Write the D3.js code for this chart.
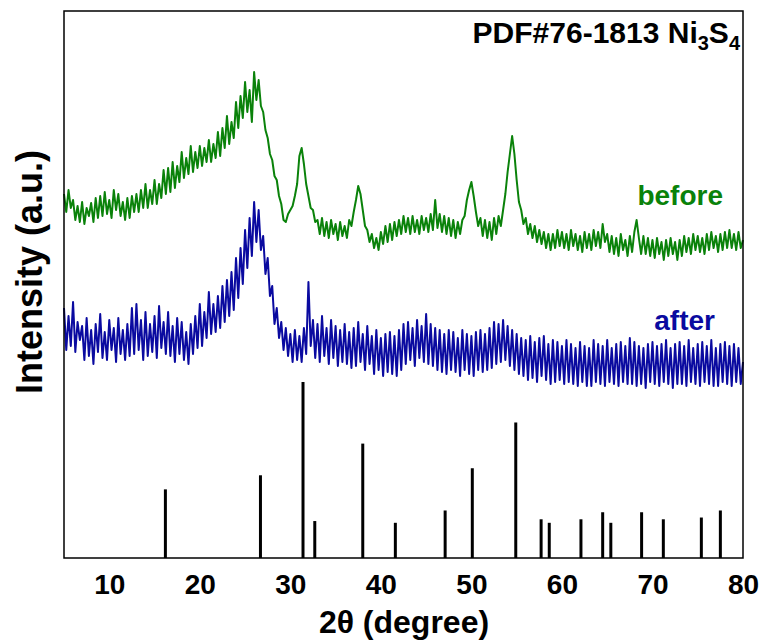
<!DOCTYPE html>
<html>
<head>
<meta charset="utf-8">
<script src="https://cdn.jsdelivr.net/npm/d3@7"></script>
<style>
  body { margin: 0; background: #fff; }
  text { font-family: Arial, 'Liberation Sans', sans-serif; font-weight: bold; }
</style>
</head>
<body>
<svg id="xrd" width="763" height="644"></svg>
<script>
// 2theta grid of the scans: start, step (degree)
let scanStart = 5, scanStep = 0.25;

// sample before cycling (a.u.)
let before = [
    364, 346, 368, 350, 358, 338, 352, 336, 356, 334, 350, 342, 355, 336, 360, 340,
    362, 342, 366, 344, 358, 340, 368, 348, 364, 342, 356, 338, 360, 340, 362, 346,
    364, 346, 368, 350, 374, 350, 368, 354, 378, 354, 374, 360, 388, 364, 390, 366,
    396, 370, 392, 376, 406, 380, 400, 384, 412, 386, 406, 390, 412, 392, 410, 396,
    418, 396, 414, 400, 426, 402, 430, 410, 442, 414, 436, 420, 456, 430, 462, 440,
    476, 446, 468, 436, 486, 458, 478, 452, 446, 428, 420, 404, 398, 382, 378, 362,
    354, 338, 336, 344, 348, 352, 362, 374, 402, 410, 394, 374, 362, 350, 348, 336,
    338, 324, 340, 322, 336, 320, 338, 324, 334, 318, 336, 322, 332, 320, 338, 332,
    346, 358, 372, 364, 348, 332, 328, 316, 324, 310, 320, 308, 326, 314, 332, 316,
    334, 318, 336, 322, 338, 324, 342, 326, 340, 324, 342, 326, 338, 324, 342, 328,
    340, 326, 344, 328, 358, 330, 344, 326, 342, 324, 340, 322, 338, 320, 336, 324,
    338, 342, 358, 368, 376, 362, 346, 332, 340, 322, 338, 320, 336, 318, 340, 324,
    342, 332, 348, 364, 386, 404, 422, 404, 378, 356, 348, 334, 340, 324, 334, 320,
    332, 316, 328, 314, 326, 310, 324, 308, 324, 310, 328, 312, 326, 310, 324, 308,
    328, 312, 324, 308, 322, 306, 326, 310, 324, 308, 328, 312, 326, 310, 334, 316,
    324, 306, 322, 304, 320, 302, 324, 308, 318, 302, 322, 306, 326, 338, 320, 304,
    322, 304, 320, 302, 318, 300, 320, 304, 316, 298, 318, 302, 320, 304, 316, 298,
    318, 302, 322, 306, 320, 304, 324, 308, 322, 306, 320, 304, 324, 308, 326, 310,
    322, 306, 324, 308, 326, 310, 328, 310, 324, 308, 326, 310, 318
];

// sample after cycling (a.u.)
let after = [
    250, 208, 242, 212, 256, 206, 236, 218, 232, 198, 240, 202, 228, 194, 234, 206,
    244, 200, 226, 198, 238, 208, 230, 196, 240, 204, 228, 198, 234, 202, 250, 204,
    254, 208, 238, 198, 246, 202, 234, 206, 242, 200, 252, 210, 236, 204, 246, 202,
    232, 196, 240, 204, 236, 198, 226, 194, 234, 204, 242, 210, 254, 212, 246, 220,
    266, 224, 254, 226, 262, 230, 272, 236, 278, 242, 286, 248, 300, 260, 310, 274,
    328, 290, 340, 302, 356, 316, 348, 308, 322, 284, 300, 262, 272, 234, 250, 220,
    236, 208, 230, 202, 224, 196, 228, 198, 222, 196, 230, 204, 276, 212, 238, 200,
    234, 196, 242, 202, 230, 194, 238, 200, 232, 192, 228, 196, 234, 194, 226, 190,
    230, 192, 236, 196, 224, 188, 232, 194, 222, 184, 228, 188, 220, 182, 224, 186,
    226, 184, 222, 182, 228, 188, 234, 194, 236, 198, 230, 192, 238, 200, 232, 196,
    244, 194, 234, 192, 230, 188, 228, 186, 224, 184, 228, 188, 226, 186, 220, 182,
    228, 188, 224, 184, 222, 182, 226, 188, 228, 186, 224, 188, 230, 190, 236, 194,
    234, 196, 238, 198, 232, 192, 228, 188, 224, 184, 220, 182, 218, 178, 222, 180,
    216, 176, 220, 182, 222, 178, 214, 174, 218, 176, 216, 178, 212, 174, 218, 176,
    214, 174, 210, 172, 216, 176, 212, 172, 210, 172, 218, 176, 214, 174, 212, 172,
    218, 176, 210, 174, 214, 172, 216, 176, 212, 174, 220, 174, 216, 172, 212, 174,
    210, 170, 214, 176, 216, 174, 212, 172, 214, 176, 218, 174, 210, 170, 214, 174,
    216, 174, 212, 172, 218, 176, 210, 174, 214, 172, 216, 176, 212, 174, 218, 172,
    210, 172, 214, 176, 216, 174, 212, 172, 214, 176, 210, 174, 196
];

// PDF#76-1813 Ni3S4 reference lines: position and relative intensity
let refPos = [16.2, 26.7, 31.4, 32.7, 38.0, 41.6, 47.1, 50.1, 54.9, 57.7, 58.6, 62.1, 64.5, 65.4, 68.8, 71.2, 75.4, 77.5];
let refInt = [39, 47, 100, 21, 65, 20, 27, 51, 77, 22, 20, 22, 26, 20, 26, 22, 23, 27];

let xTicks = [10, 20, 30, 40, 50, 60, 70, 80];

let svg = d3.select('#xrd'),
    width = +svg.attr('width'),
    height = +svg.attr('height'),
    margin = {top: 11, right: 20, bottom: 86, left: 64},
    w = width - margin.left - margin.right,
    h = height - margin.top - margin.bottom,
    g = svg.append('g').attr('transform', 'translate(' + margin.left + ',' + margin.top + ')');

let x = d3.scaleLinear().domain([5, 80]).range([0, w]);
let y = d3.scaleLinear().domain([0, 547]).range([h, 0]);
// stick heights: 100 % = 176 px
let yRef = d3.scaleLinear().domain([0, 100]).range([h, h - 176]);

let line = d3.line()
    .x(function (d, i) { return x(scanStart + i * scanStep); })
    .y(function (d) { return y(d); });

g.append('path')
    .attr('d', line(before))
    .attr('fill', 'none')
    .attr('stroke', '#0a820a')
    .attr('stroke-width', 2)
    .attr('stroke-linejoin', 'round');

g.append('path')
    .attr('d', line(after))
    .attr('fill', 'none')
    .attr('stroke', '#0a0aa0')
    .attr('stroke-width', 2)
    .attr('stroke-linejoin', 'round');

g.selectAll('.ref')
    .data(refPos)
    .enter().append('line')
    .attr('class', 'ref')
    .attr('x1', function (d) { return x(d); })
    .attr('x2', function (d) { return x(d); })
    .attr('y1', h)
    .attr('y2', function (d, i) { return yRef(refInt[i]); })
    .attr('stroke', '#000')
    .attr('stroke-width', 3);

// x axis, no tick marks
let xAxis = g.append('g')
    .attr('transform', 'translate(0,' + h + ')')
    .call(d3.axisBottom(x).tickValues(xTicks).tickSize(0).tickPadding(16));
xAxis.select('.domain').remove();
xAxis.selectAll('text')
    .attr('font-size', 28)
    .attr('font-family', null)
    .attr('fill', '#000');

// frame
g.append('rect')
    .attr('width', w)
    .attr('height', h)
    .attr('fill', 'none')
    .attr('stroke', '#000')
    .attr('stroke-width', 1.5);

svg.append('text')
    .attr('x', 404)
    .attr('y', 633)
    .attr('text-anchor', 'middle')
    .attr('font-size', 32)
    .text('2θ (degree)');

svg.append('text')
    .attr('transform', 'translate(42,272) rotate(-90)')
    .attr('text-anchor', 'middle')
    .attr('font-size', 36)
    .text('Intensity (a.u.)');

svg.append('text')
    .attr('x', 723)
    .attr('y', 205)
    .attr('text-anchor', 'end')
    .attr('font-size', 28)
    .attr('fill', '#0a820a')
    .text('before');

svg.append('text')
    .attr('x', 715)
    .attr('y', 330)
    .attr('text-anchor', 'end')
    .attr('font-size', 28)
    .attr('fill', '#0a0aa0')
    .text('after');

let title = svg.append('text')
    .attr('x', 740)
    .attr('y', 43)
    .attr('text-anchor', 'end')
    .attr('font-size', 30);
title.append('tspan').text('PDF#76-1813 Ni');
title.append('tspan').attr('font-size', 20).attr('dy', 7).text('3');
title.append('tspan').attr('dy', -7).text('S');
title.append('tspan').attr('font-size', 20).attr('dy', 7).text('4');
</script>
</body>
</html>
